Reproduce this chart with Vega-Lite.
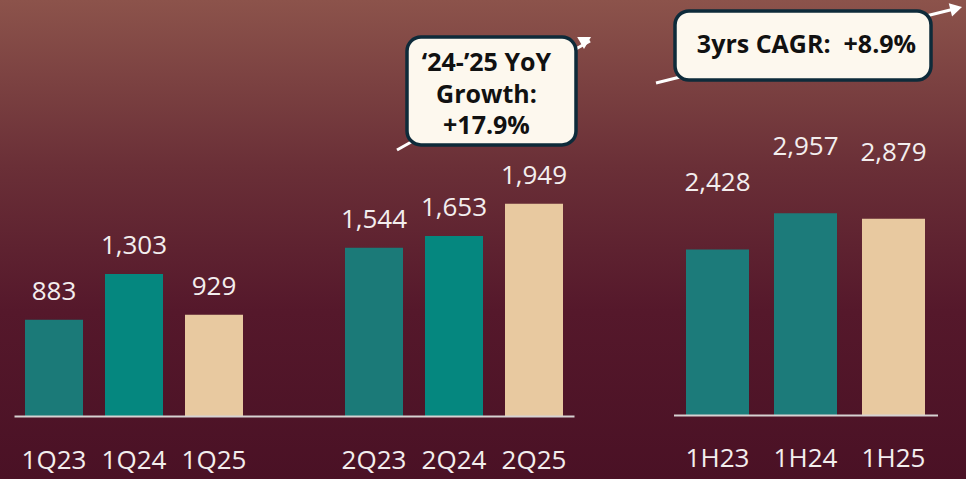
{
  "$schema": "https://vega.github.io/schema/vega-lite/v6.json",
  "width": 966,
  "height": 479,
  "autosize": {"type": "none"},
  "padding": 0,
  "background": "#4b1226",
  "config": {"view": {"stroke": null}, "font": "Open Sans"},
  "datasets": {
    "left": [
      {"period": "1Q23", "value": 883},
      {"period": "1Q24", "value": 1303},
      {"period": "1Q25", "value": 929},
      {"period": "2Q23", "value": 1544},
      {"period": "2Q24", "value": 1653},
      {"period": "2Q25", "value": 1949}
    ],
    "right": [
      {"period": "1H23", "value": 2428},
      {"period": "1H24", "value": 2957},
      {"period": "1H25", "value": 2879}
    ],
    "boxes": [
      {"id": "yoy", "ax": 4.4125, "ax2": 6.525, "ay": 3480, "ay2": 2489},
      {"id": "cagr", "ax": 7.7625, "ax2": 10.9625, "ay": 3719, "ay2": 3085}
    ],
    "arrows": [
      {"id": "yoy", "ax": 4.2875, "ax2": 6.70, "ay": 2443, "ay2": 3443},
      {"id": "cagr", "ax": 7.525, "ax2": 11.2525, "ay": 3058, "ay2": 3738}
    ],
    "heads": [
      {"id": "yoy", "ax": 6.6475, "ay": 3453, "angle": -29.5},
      {"id": "cagr", "ax": 11.2775, "ay": 3743, "angle": -13.95}
    ],
    "notes": [
      {"text": "‘24-’25 YoY", "ax": 5.406, "ay": 3241},
      {"text": "Growth:", "ax": 5.406, "ay": 2952},
      {"text": "+17.9%", "ax": 5.406, "ay": 2663},
      {"text": "3yrs CAGR:\u00a0 +8.9%", "ax": 9.406, "ay": 3407}
    ]
  },
  "layer": [
    {
      "data": {"values": [{}]},
      "mark": {
        "type": "rect",
        "color": {
          "gradient": "linear",
          "x1": 0, "y1": 0, "x2": 0, "y2": 1,
          "stops": [
            {"offset": 0, "color": "#8c534b"},
            {"offset": 0.35, "color": "#6a2f37"},
            {"offset": 0.65, "color": "#55182b"},
            {"offset": 1, "color": "#4a1125"}
          ]
        }
      },
      "encoding": {}
    },
    {
      "data": {"name": "left"},
      "encoding": {
        "x": {
          "field": "period", "type": "nominal", "sort": null,
          "scale": {"domain": ["1Q23", "1Q24", "1Q25", " ", "2Q23", "2Q24", "2Q25"], "range": [14, 574], "paddingInner": 0.275, "paddingOuter": 0.1375},
          "axis": {"orient": "bottom", "offset": -63, "zindex": 1, "title": null, "ticks": false, "tickSize": 0, "labelPadding": 44, "labelBaseline": "middle", "labelFontSize": 26, "labelColor": "#f3eeee", "labelFont": "Open Sans", "labelAngle": 0, "domainColor": "#d6d2d2", "domainWidth": 2}
        },
        "y": {"field": "value", "type": "quantitative", "scale": {"domain": [0, 3820], "range": [416, 0], "nice": false, "zero": false}, "axis": null}
      },
      "layer": [
        {
          "mark": {"type": "bar"},
          "encoding": {
            "color": {"field": "period", "type": "nominal", "legend": null,
              "scale": {"domain": ["1Q23", "1Q24", "1Q25", "2Q23", "2Q24", "2Q25"], "range": ["#1b7a78", "#05877f", "#e8c9a0", "#1b7a78", "#05877f", "#e8c9a0"]}}
          }
        },
        {
          "mark": {"type": "text", "dy": -28, "fontSize": 26, "color": "#f3eeee", "font": "Open Sans", "baseline": "middle"},
          "encoding": {"text": {"field": "value", "type": "quantitative", "format": ","}}
        }
      ]
    },
    {
      "data": {"name": "right"},
      "encoding": {
        "x": {
          "field": "period", "type": "nominal", "sort": null,
          "scale": {"domain": ["1H23", "1H24", "1H25"], "range": [673.5, 937.5], "paddingInner": 0.284, "paddingOuter": 0.142},
          "axis": {"orient": "bottom", "offset": -64, "zindex": 1, "title": null, "ticks": false, "tickSize": 0, "labelPadding": 43, "labelBaseline": "middle", "labelFontSize": 26, "labelColor": "#f3eeee", "labelFont": "Open Sans", "labelAngle": 0, "domainColor": "#d6d2d2", "domainWidth": 2}
        },
        "y": {"field": "value", "type": "quantitative", "scale": {"domain": [0, 6085], "range": [415, 0], "nice": false, "zero": false}, "axis": null}
      },
      "layer": [
        {
          "mark": {"type": "bar"},
          "encoding": {
            "color": {"field": "period", "type": "nominal", "legend": null,
              "scale": {"domain": ["1H23", "1H24", "1H25"], "range": ["#1c7b7a", "#1c7b7a", "#e8c9a0"]}}
          }
        },
        {
          "mark": {"type": "text", "dy": -66, "fontSize": 26, "color": "#f3eeee", "font": "Open Sans", "baseline": "middle"},
          "encoding": {"text": {"field": "value", "type": "quantitative", "format": ","}}
        }
      ]
    },
    {
      "encoding": {
        "x": {"field": "ax", "type": "quantitative", "scale": {"domain": [-0.675, 11.4], "range": [0, 966], "nice": false, "zero": false}, "axis": null},
        "y": {"field": "ay", "type": "quantitative", "scale": {"domain": [0, 3820], "range": [416, 0], "nice": false, "zero": false}, "axis": null}
      },
      "layer": [
        {
          "data": {"name": "arrows"},
          "mark": {"type": "rule", "color": "white", "strokeWidth": 3},
          "encoding": {
            "x2": {"field": "ax2"},
            "y2": {"field": "ay2"}
          }
        },
        {
          "data": {"name": "heads"},
          "mark": {"type": "point", "shape": "triangle-right", "filled": true, "color": "white", "size": 190, "opacity": 1},
          "encoding": {
            "angle": {"field": "angle", "type": "quantitative", "scale": null}
          }
        },
        {
          "data": {"name": "boxes"},
          "mark": {"type": "rect", "fill": "#fdf8ee", "stroke": "#0e2b3a", "strokeWidth": 3.5, "cornerRadius": 14},
          "encoding": {
            "x2": {"field": "ax2"},
            "y2": {"field": "ay2"}
          }
        },
        {
          "data": {"name": "notes"},
          "mark": {"type": "text", "fontSize": 25, "fontWeight": "bold", "color": "#111111", "font": "Open Sans", "baseline": "middle", "align": "center"},
          "encoding": {
            "text": {"field": "text", "type": "nominal"}
          }
        }
      ]
    }
  ],
  "resolve": {"scale": {"x": "independent", "y": "independent", "color": "independent"}}
}
